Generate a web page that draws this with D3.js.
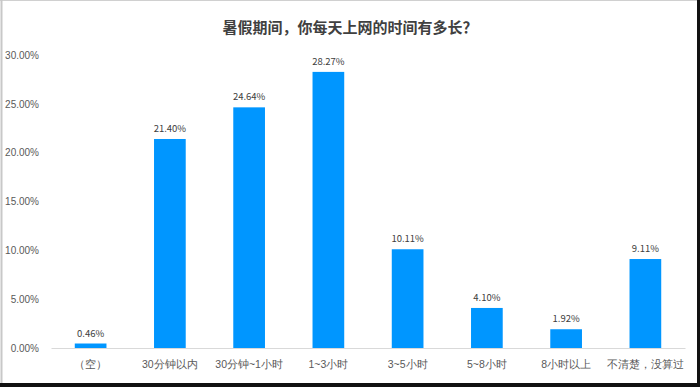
<!DOCTYPE html>
<html lang="zh">
  <head>
    <meta charset="UTF-8" />
    <title>暑假期间，你每天上网的时间有多长？</title>
    <script src="https://d3js.org/d3.v7.min.js"></script>
    <style>
      body {
        margin: 0;
        background: #fff;
      }
      svg {
        display: block;
        font-family: "Noto Sans CJK SC", "Microsoft YaHei", sans-serif;
      }
    </style>
  </head>
  <body>
    <svg width="700" height="387"></svg>
    <script>
      const categories = [
        "（空）",
        "30分钟以内",
        "30分钟~1小时",
        "1~3小时",
        "3~5小时",
        "5~8小时",
        "8小时以上",
        "不清楚，没算过",
      ];
      const values = [0.46, 21.4, 24.64, 28.27, 10.11, 4.1, 1.92, 9.11];
      const yTicks = [0, 5, 10, 15, 20, 25, 30];

      const svg = d3.select("svg");
      const margin = { top: 55, right: 15, bottom: 39, left: 51 };
      const W = 700, H = 387;

      // frame like the screenshot
      svg.append("rect").attr("x", 0).attr("y", 0).attr("width", W).attr("height", H).attr("fill", "#fff");
      svg.append("line").attr("x1", 0).attr("x2", W).attr("y1", 0.5).attr("y2", 0.5).attr("stroke", "#d0d0d0");
      svg.append("line").attr("x1", 1.5).attr("x2", 1.5).attr("y1", 0).attr("y2", H).attr("stroke", "#c8c8c8").attr("stroke-width", 2);
      svg.append("line").attr("x1", W - 1.5).attr("x2", W - 1.5).attr("y1", 0).attr("y2", H).attr("stroke", "#111").attr("stroke-width", 3);
      svg.append("line").attr("x1", 0).attr("x2", W).attr("y1", H - 2).attr("y2", H - 2).attr("stroke", "#111").attr("stroke-width", 4);

      const x = d3.scaleBand()
        .domain(categories)
        .range([margin.left, W - margin.right])
        .paddingInner(0.6)
        .paddingOuter(0.3);

      const y = d3.scaleLinear()
        .domain([0, 30])
        .range([H - margin.bottom, margin.top]);

      svg.append("text")
        .attr("x", 350)
        .attr("y", 33)
        .attr("text-anchor", "middle")
        .attr("font-size", 15)
        .attr("font-weight", "bold")
        .attr("fill", "#404040")
        .text("暑假期间，你每天上网的时间有多长？");

      const yAxis = svg.append("g")
        .attr("transform", `translate(${margin.left - 9},0)`)
        .call(d3.axisLeft(y).tickValues(yTicks).tickSize(0).tickFormat(d => d.toFixed(2) + "%"));
      yAxis.select(".domain").remove();
      yAxis.selectAll("text").attr("fill", "#595959").attr("font-size", 10);

      const xAxis = svg.append("g")
        .attr("transform", `translate(0,${y(0)})`)
        .call(d3.axisBottom(x).tickSize(0).tickPadding(13));
      xAxis.select(".domain").attr("stroke", "#d9d9d9");
      xAxis.selectAll("text").attr("fill", "#595959").attr("font-size", 10.5);

      svg.selectAll(".bar")
        .data(values)
        .join("rect")
        .attr("class", "bar")
        .attr("x", (d, i) => x(categories[i]))
        .attr("y", d => y(d))
        .attr("width", x.bandwidth())
        .attr("height", d => y(0) - y(d))
        .attr("fill", "#0096ff");

      svg.selectAll(".lbl")
        .data(values)
        .join("text")
        .attr("class", "lbl")
        .attr("x", (d, i) => x(categories[i]) + x.bandwidth() / 2)
        .attr("y", d => y(d) - 7)
        .attr("text-anchor", "middle")
        .attr("font-size", 9.5)
        .attr("fill", "#404040")
        .text(d => d.toFixed(2) + "%");
    </script>
  </body>
</html>
